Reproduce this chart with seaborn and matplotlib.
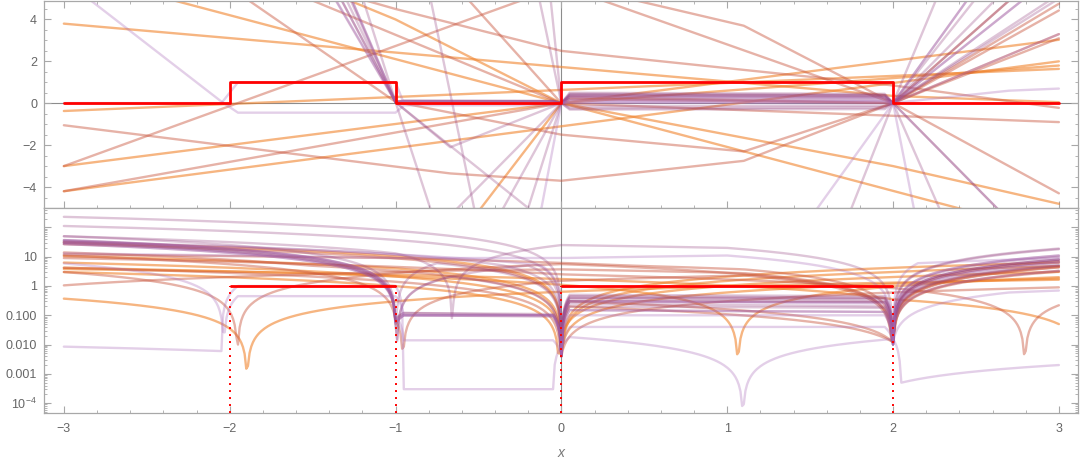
import numpy as np
import pandas as pd
import matplotlib
matplotlib.use('Agg')
import matplotlib.pyplot as plt
from matplotlib.ticker import (FixedLocator, FixedFormatter, MultipleLocator,
                               LogLocator, NullFormatter)
import seaborn as sns

# Target step function
STEP_EDGES = [-3, -2, -1, 0, 2, 3]
STEP_LEVELS = [0, 1, 0, 1, 0]

# Piecewise-linear fits, each as (knot x, knot y)
ORANGE = [
    ([-3, 2, 3], [3.8, 0.35, 0.05]),
    ([-3, 3], [6.3, -6.28]),
    ([-3, 3], [-3.0, 3.03]),
    ([-3, 3], [-0.37, 1.64]),
    ([-3, 3], [-4.2, 2.0]),
    ([-3, 0, 2, 3], [-31, 0.005, 1.2, 1.8]),
    ([-3, -1, 0, 2, 3], [10.5, 4.0, 0.005, -3.0, -4.8]),
]
RED = [
    ([-3, 0, 2, 3], [-3.0, 5.6, 0.012, 3.3]),
    ([-3, -1, 0.4, 1.1, 2, 3], [12, 9, 5, 3.7, 0.012, -4.3]),
    ([-3, -0.67, 0, 1.1, 2, 3], [-1.05, -3.35, -3.7, -2.75, 0.012, 3.1]),
    ([-3, 0, 0.05, 2, 3], [-4.2, 0.004, 0.3, 0.012, 4.43]),
    ([-3, -1, 0, 1.1, 2, 3], [11, 0.07, -1.5, -2.3, 0.012, 4.75]),
    ([-3, -1.53, 0, 2, 3], [14, 5, -0.004, -0.6, -0.9]),
    ([-3, -1, 0, 0.05, 2, 3], [27, 8.8, 0.004, 0.2, 0.012, 7]),
    ([-3, -1, 0, 2, 3], [9, 4.5, 2.5, 0.85, -0.22]),
]
MAUVE = [
    ([-3, -1, -0.95, -0.05, 0, 0.05, 1.95, 2, 3],
     [36, 0.06, 0.1, 0.1, 0.005, 0.35, 0.3, 0.012, 8]),
    ([-3, -1, -0.95, -0.05, 0, 0.05, 1.95, 2, 3],
     [50, 0.07, 0.12, 0.11, 0.004, 0.45, 0.4, 0.01, 11]),
    ([-3, -1, -0.95, -0.05, 0, 0.05, 1.95, 2, 3],
     [30, 0.05, 0.1, 0.09, 0.006, -0.25, -0.2, 0.015, 6.3]),
    ([-3, -1, -0.75, 0, 0.05, 1.95, 2, 3],
     [33, 0.06, -6, 0.004, 0.4, 0.35, 0.01, -18]),
    ([-3, -1, -0.67, 0, 0.05, 1.95, 2, 3],
     [27, 0.05, -2.1, 0.005, 0.2, 0.18, 0.012, 5.2]),
    ([-3, -1, -0.2, 0, 0.05, 1.95, 2, 3],
     [30, 0.05, -5, 0.004, -0.15, -0.13, 0.01, -8]),
    ([-3, -1, 0, 1, 2, 3], [50, 13, -25, -20, 0.012, 19]),
    ([-3, 0, 0.05, 1.95, 2, 3], [230, 0.004, 0.5, 0.45, 0.01, 7]),
    ([-3, 0, 0.05, 1.95, 2, 3], [112, 0.004, 0.3, 0.28, 0.012, 5]),
    ([-3, -1, -0.95, -0.05, 0, 0.05, 1.95, 2, 3],
     [37, 0.08, 0.12, 0.1, 0.006, 0.4, 0.38, 0.015, 10]),
    ([-3, -0.35, 0, 0.05, 1.95, 2, 3], [-33, -5, 0.005, -0.3, -0.28, 0.012, -8]),
]
LAVENDER = [
    ([-3, -2.05, -1.95, -1, -0.95, -0.05, 0, 0.05, 1.95, 2, 2.15, 3],
     [5.9, 0.08, -0.45, -0.45, -0.1, -0.1, -0.004, 0.3, 0.25, 0.01, -6, -9]),
    ([-3, -2.05, -1.95, -1, -0.95, -0.05, 0.05, 2, 2.05, 3],
     [0.0085, 0.006, 1.0, 1.0, 0.0003, 0.0003, 0.018, -0.0156, 0.0005, 0.002]),
    ([-3, -1, -0.95, -0.05, 0, 0.05, 1.95, 2, 2.7, 3],
     [27, 0.1, 0.014, 0.014, 0.005, 0.1, 0.1, 0.012, 0.6, 0.7]),
    ([-3, -1, -0.95, -0.05, 0, 0.05, 1.95, 2, 3],
     [37, 0.06, 0.1, 0.1, 0.004, 0.04, 0.04, 0.015, 3.3]),
    ([-3, -1, -0.12, 0, 0.05, 1.95, 2, 3],
     [-31, -12, -5, 0.004, 0.15, 0.13, 0.01, 6.3]),
    ([-3, -1, 0, 1.0, 2, 3], [-13, -9, -9, -11, 0.01, 11]),
]

GROUPS = [
    (ORANGE, '#F0842E', 0.6),
    (RED, '#C8553D', 0.45),
    (MAUVE, '#93407F', 0.3),
    (LAVENDER, '#A96CB8', 0.32),
]

all_knots = sorted({k for g, _, _ in GROUPS for kx, _ in g for k in kx})
# sampling grid for the |f| log panel
xs = np.union1d(np.linspace(-3, 3, 601), all_knots)

sns.set_theme(style='white')
plt.rcParams['font.family'] = ['Liberation Sans', 'DejaVu Sans']
plt.rcParams['mathtext.default'] = 'regular'

fig = plt.figure(figsize=(10.8, 4.62), dpi=100)
ax_top = fig.add_axes([0.0407, 0.5498, 0.9574, 0.448])
ax_bot = fig.add_axes([0.0407, 0.106, 0.9574, 0.4437], sharex=ax_top)
ax_bot.set_yscale('log')

grey = '#a8a8a8'
for ax in (ax_top, ax_bot):
    ax.axvline(0, color='#8c8c8c', lw=0.8, zorder=0)
ax_top.axhline(0, color='#8c8c8c', lw=0.8, zorder=0)

for gi, (lines, color, alpha) in enumerate(GROUPS):
    knot_frames, dense_frames = [], []
    for li, (kx, ky) in enumerate(lines):
        uid = f'{gi}-{li}'
        knot_frames.append(pd.DataFrame({'x': kx, 'y': ky, 'id': uid}))
        yy = np.abs(np.interp(xs, kx, ky))
        dense_frames.append(pd.DataFrame({'x': xs, 'y': np.clip(yy, 1e-7, None),
                                          'id': uid}))
    sns.lineplot(data=pd.concat(knot_frames), x='x', y='y', units='id',
                 estimator=None, sort=False, color=color, alpha=alpha,
                 lw=1.7, ax=ax_top, legend=False)
    sns.lineplot(data=pd.concat(dense_frames), x='x', y='y', units='id',
                 estimator=None, sort=False, color=color, alpha=alpha,
                 lw=1.7, ax=ax_bot, legend=False)

# red target
ax_top.plot(STEP_EDGES, STEP_LEVELS + [STEP_LEVELS[-1]], drawstyle='steps-post',
            color='#ff0000', lw=2.0, zorder=5)
for i, lev in enumerate(STEP_LEVELS):
    if lev > 0:
        ax_bot.hlines(lev, STEP_EDGES[i], STEP_EDGES[i + 1], color='#ff0000',
                      lw=2.0, zorder=5)
ax_bot.vlines(STEP_EDGES[1:-1], 1e-6, 1, color='#ff0000', lw=1.4,
              linestyles=(0, (1, 2.6)), zorder=5)

ax_top.set_xlim(-3.12, 3.115)
ax_top.set_ylim(-5, 4.88)
ax_bot.set_ylim(4.6e-5, 459)

ax_top.xaxis.set_major_locator(MultipleLocator(1))
ax_top.xaxis.set_minor_locator(MultipleLocator(0.2))
ax_top.yaxis.set_major_locator(MultipleLocator(2))
ax_top.yaxis.set_minor_locator(MultipleLocator(0.5))
ax_bot.yaxis.set_major_locator(FixedLocator([1e-4, 1e-3, 1e-2, 0.1, 1, 10, 100]))
ax_bot.yaxis.set_major_formatter(FixedFormatter(
    ['$10^{-4}$', '0.001', '0.010', '0.100', '1', '10', '']))
ax_bot.yaxis.set_minor_locator(LogLocator(base=10, subs=range(2, 10), numticks=30))
ax_bot.yaxis.set_minor_formatter(NullFormatter())

for ax in (ax_top, ax_bot):
    ax.set_xlabel('')
    ax.set_ylabel('')
    for s in ax.spines.values():
        s.set_color(grey)
        s.set_linewidth(0.9)
    ax.tick_params(which='both', direction='in', color=grey, labelcolor='#666666',
                   labelsize=9, left=True, right=True, bottom=True)
    ax.tick_params(which='major', length=5, width=0.8, pad=5)
    ax.tick_params(which='minor', length=2.5, width=0.6)
ax_top.tick_params(which='both', top=True, labelbottom=False)
ax_bot.tick_params(which='both', top=False)
ax_bot.tick_params(axis='x', pad=7)

ax_bot.set_xlabel('x', style='italic', color='#777777', fontsize=10, labelpad=8)

fig.savefig('out.png', dpi=100)
